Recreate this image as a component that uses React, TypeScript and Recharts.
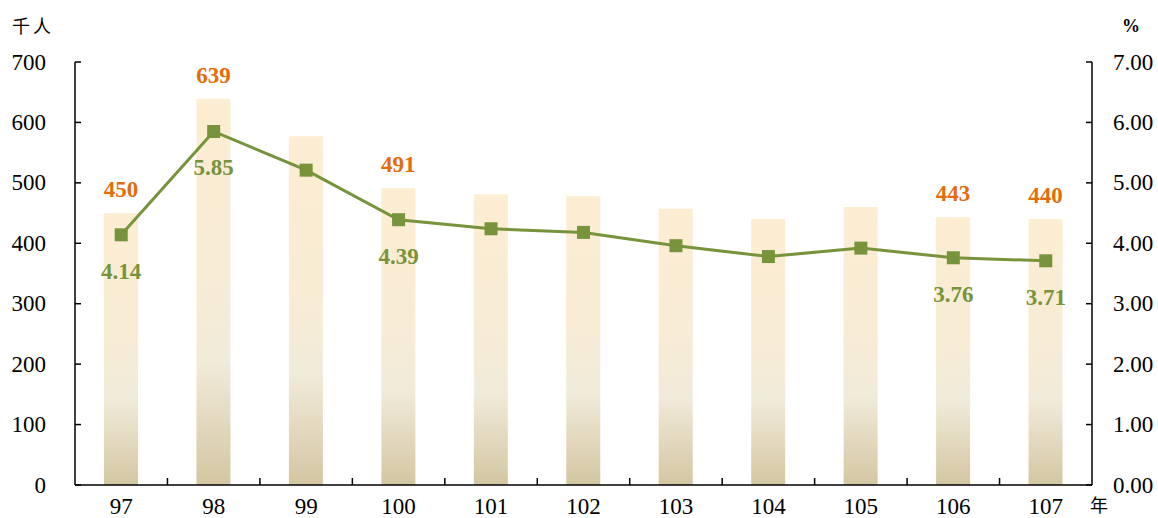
import React from 'react';
import { ComposedChart, Bar, Line, XAxis, YAxis, LabelList } from 'recharts';

const years = ['97', '98', '99', '100', '101', '102', '103', '104', '105', '106', '107'];
const unemployed = [450, 639, 577, 491, 481, 478, 457, 440, 460, 443, 440];
const rates = [4.14, 5.85, 5.21, 4.39, 4.24, 4.18, 3.96, 3.78, 3.92, 3.76, 3.71];
const labelledYears = ['97', '98', '100', '106', '107'];
const leftTicks = [0, 100, 200, 300, 400, 500, 600, 700];
const rightTicks = [0, 1, 2, 3, 4, 5, 6, 7];
const separatorTicks = [1, 2, 3, 4, 5, 6, 7, 8, 9, 10];

const data = years.map((year, i) => ({
  year,
  unemployed: unemployed[i],
  rate: rates[i],
  slot: i + 0.5,
  barLabel: labelledYears.includes(year) ? unemployed[i] : null,
  rateLabel: labelledYears.includes(year) ? rates[i] : null,
}));

const SERIF = '"Liberation Serif", "Times New Roman", serif';
const CJK = '"Noto Sans CJK TC", "Noto Sans CJK SC", sans-serif';
const ORANGE = '#E46C0A';
const GREEN = '#77933C';

const LeftTick = (p: any) => (
  <text x={p.x - 35} y={p.y} dy="0.33em" textAnchor="end" fontFamily={SERIF} fontSize={23} fill="#000">
    {p.payload.value}
  </text>
);

const RightTick = (p: any) => (
  <text x={p.x + 27} y={p.y} dy="0.33em" textAnchor="start" fontFamily={SERIF} fontSize={23} fill="#000">
    {Number(p.payload.value).toFixed(2)}
  </text>
);

const BottomTick = (p: any) => (
  <text x={p.x} y={p.y + 29} textAnchor="middle" fontFamily={SERIF} fontSize={23} fill="#000">
    {p.payload.value}
  </text>
);

const EmptyTick = () => <g />;

const BarValueLabel = (p: any) => {
  if (p.value === null || p.value === undefined) return null;
  return (
    <text x={p.x + p.width / 2} y={p.y - 16} textAnchor="middle" fontFamily={SERIF} fontSize={23} fontWeight="bold" fill={ORANGE}>
      {p.value}
    </text>
  );
};

const RateValueLabel = (p: any) => {
  if (p.value === null || p.value === undefined) return null;
  return (
    <text x={p.x} y={p.y + 44} textAnchor="middle" fontFamily={SERIF} fontSize={23} fontWeight="bold" fill={GREEN}>
      {Number(p.value).toFixed(2)}
    </text>
  );
};

const SquareDot = (p: any) => (
  <rect key={`dot-${p.index}`} x={p.cx - 6.5} y={p.cy - 6.5} width={13} height={13} fill={GREEN} />
);

export default function App() {
  return (
    <div style={{ position: 'absolute', left: 0, top: 0, width: 1158, height: 518, background: '#fff' }}>
      <ComposedChart width={1158} height={518} data={data} margin={{ top: 62, right: 0, bottom: 33, left: 0 }}>
        <defs>
          <linearGradient id="barGrad" x1="0" y1="0" x2="0" y2="1">
            <stop offset="0%" stopColor="#FDEDD2" />
            <stop offset="45%" stopColor="#F8ECD5" />
            <stop offset="68%" stopColor="#F1EBDA" />
            <stop offset="100%" stopColor="#D4C6A2" />
          </linearGradient>
        </defs>
        <XAxis
          dataKey="year"
          xAxisId="cat"
          height={0.01}
          axisLine={{ stroke: '#000', strokeWidth: 1.5 }}
          tickLine={false}
          tickSize={0}
          tickMargin={0}
          tick={<BottomTick />}
          interval={0}
        />
        <XAxis
          dataKey="slot"
          xAxisId="sep"
          type="number"
          domain={[0, 11]}
          allowDataOverflow
          ticks={separatorTicks}
          interval={0}
          height={0.01}
          axisLine={false}
          tick={<EmptyTick />}
          tickLine={{ stroke: '#000', strokeWidth: 1.5 }}
          tickSize={-7}
        />
        <YAxis
          yAxisId="left"
          width={75}
          domain={[0, 700]}
          ticks={leftTicks}
          interval={0}
          axisLine={{ stroke: '#000', strokeWidth: 1.5 }}
          tickLine={{ stroke: '#000', strokeWidth: 1.5 }}
          tickSize={-6}
          tickMargin={0}
          tick={<LeftTick />}
        />
        <YAxis
          yAxisId="right"
          orientation="right"
          width={66}
          domain={[0, 7]}
          ticks={rightTicks}
          interval={0}
          axisLine={{ stroke: '#000', strokeWidth: 1.5 }}
          tickLine={{ stroke: '#000', strokeWidth: 1.5 }}
          tickSize={-6}
          tickMargin={0}
          tick={<RightTick />}
        />
        <Bar dataKey="unemployed" xAxisId="cat" yAxisId="left" barSize={34} fill="url(#barGrad)" isAnimationActive={false}>
          <LabelList dataKey="barLabel" content={<BarValueLabel />} />
        </Bar>
        <Line
          dataKey="rate"
          xAxisId="cat"
          yAxisId="right"
          stroke={GREEN}
          strokeWidth={3}
          dot={SquareDot}
          activeDot={false}
          isAnimationActive={false}
        >
          <LabelList dataKey="rateLabel" content={<RateValueLabel />} />
        </Line>
      </ComposedChart>
      <div style={{ position: 'absolute', left: 12, top: 13, fontFamily: CJK, fontSize: 18, letterSpacing: 3, color: '#000', lineHeight: '24px' }}>
        千人
      </div>
      <div style={{ position: 'absolute', left: 1122, top: 14, fontFamily: SERIF, fontSize: 18, fontWeight: 'bold', color: '#000', lineHeight: '24px' }}>
        %
      </div>
      <div style={{ position: 'absolute', left: 1090, top: 492, fontFamily: CJK, fontSize: 18, color: '#000', lineHeight: '24px' }}>
        年
      </div>
    </div>
  );
}
